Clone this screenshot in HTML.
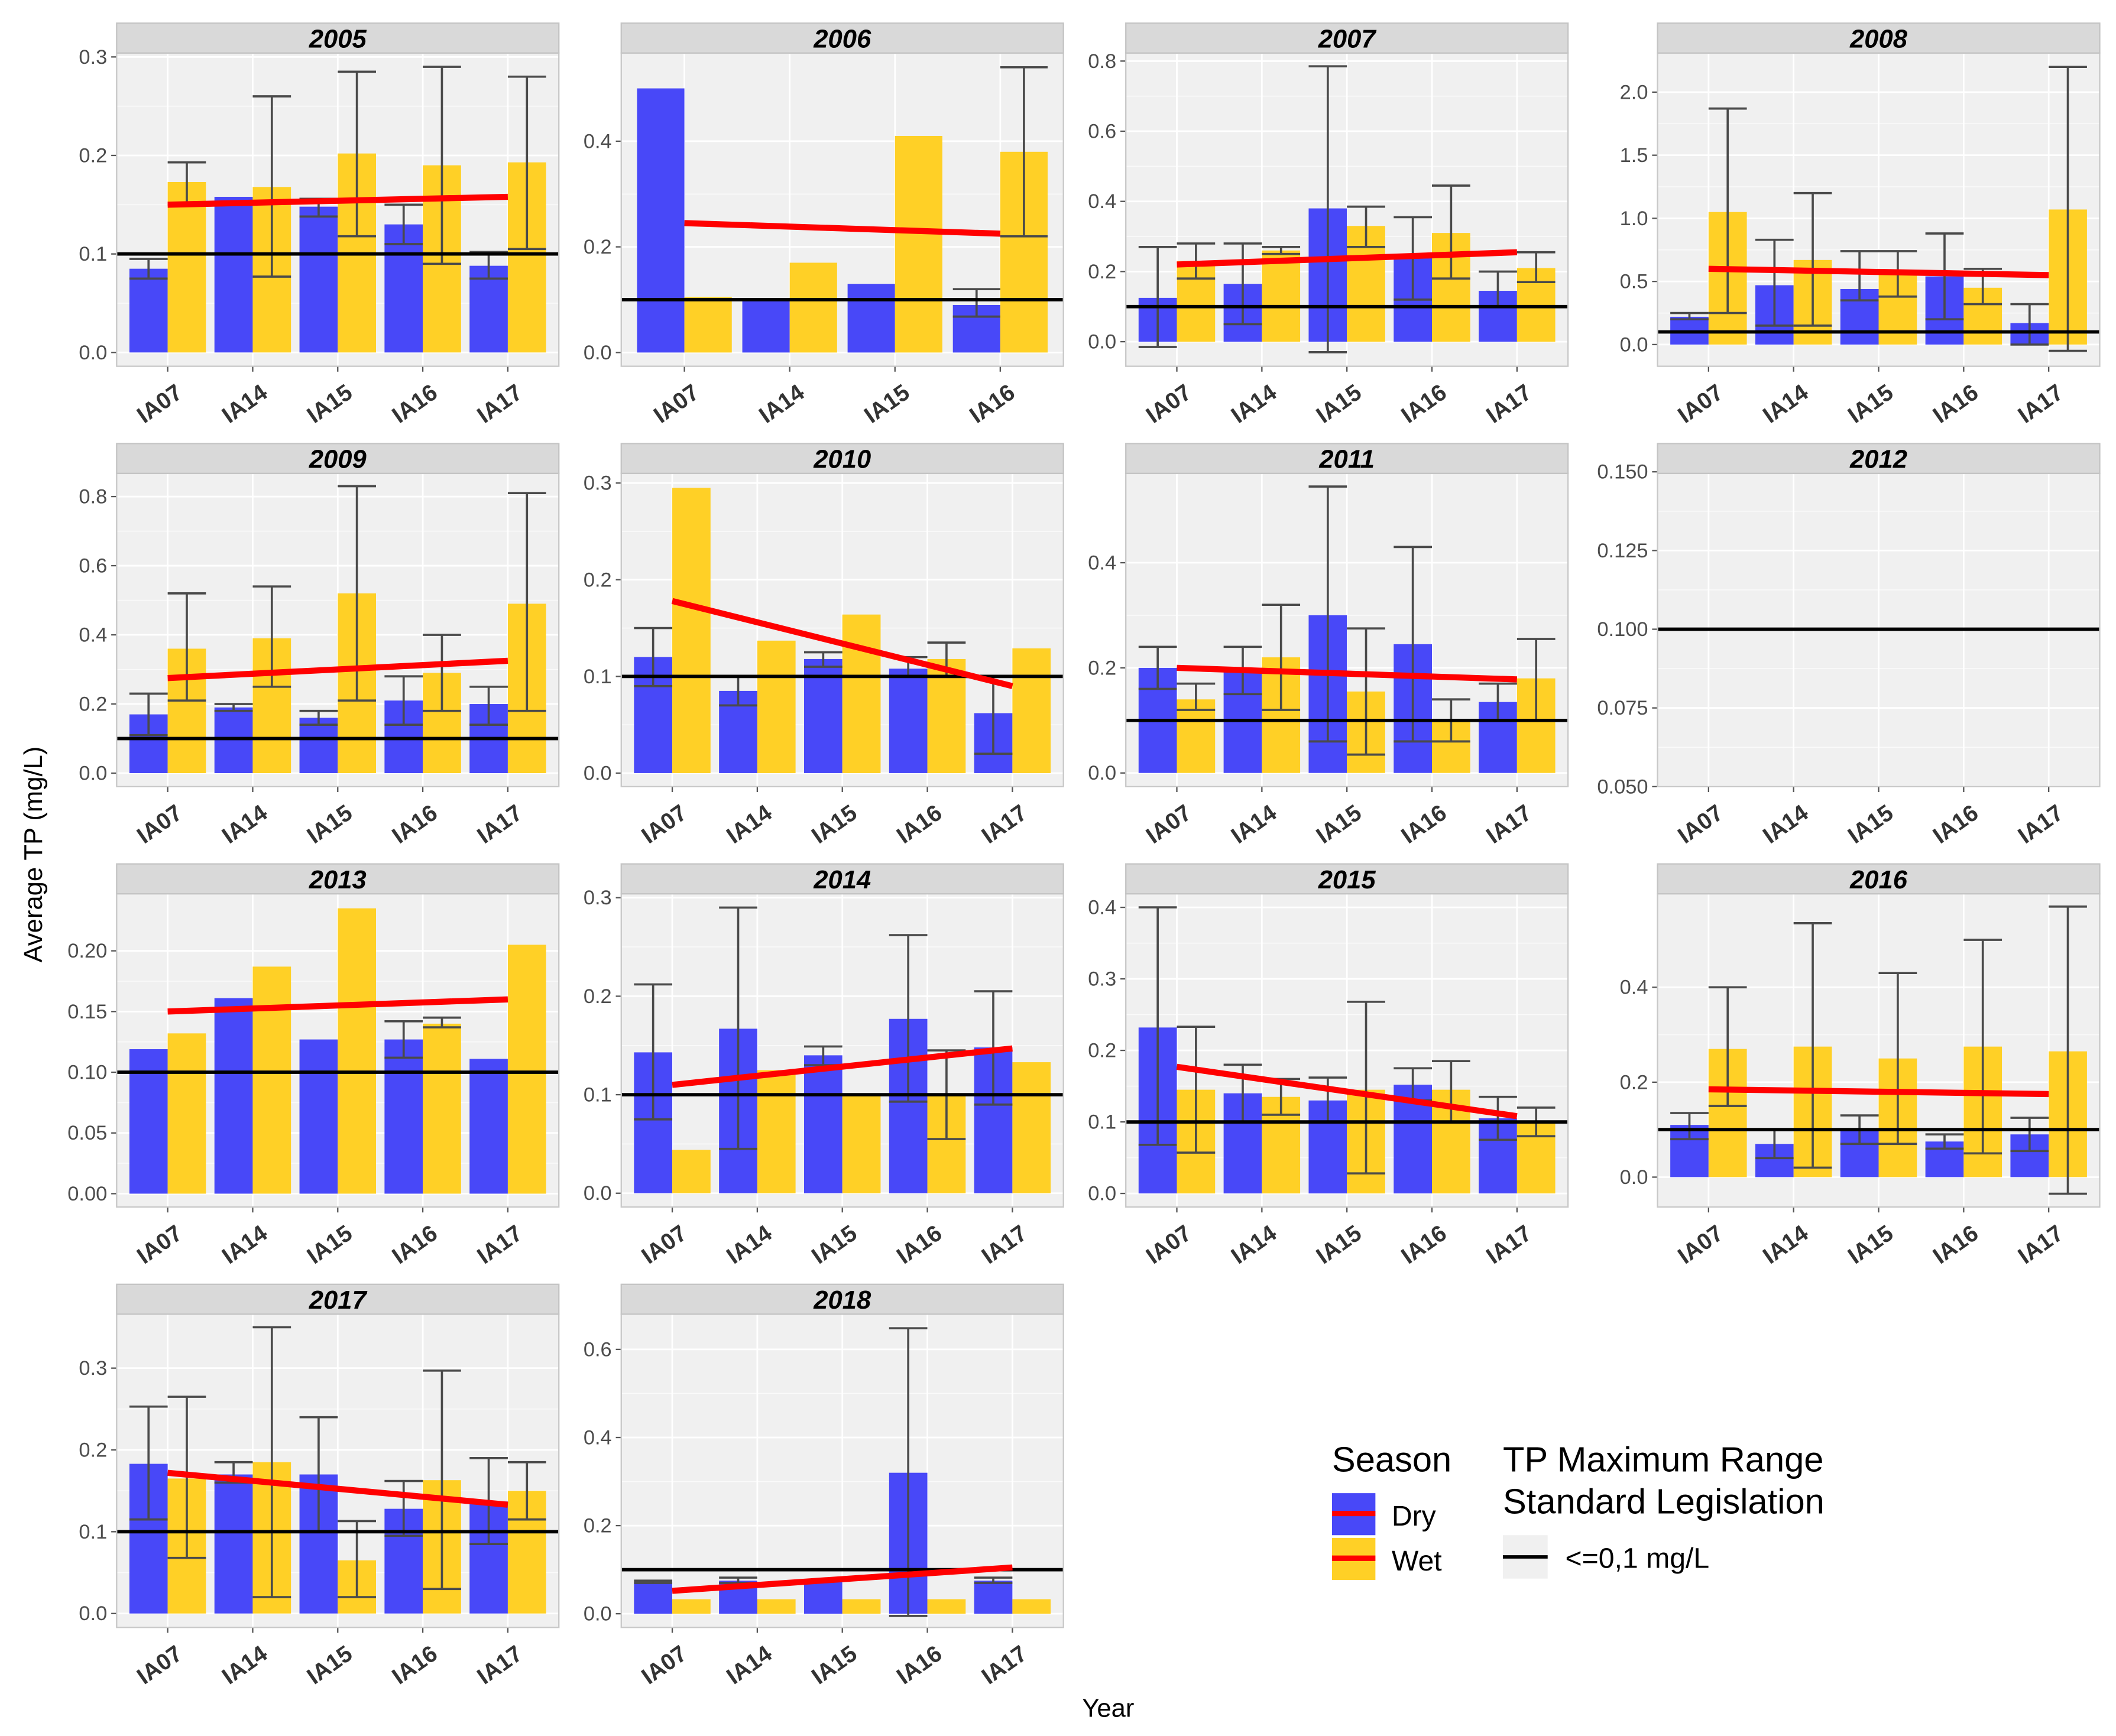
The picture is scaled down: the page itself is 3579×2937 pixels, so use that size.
<!DOCTYPE html>
<html><head><meta charset="utf-8"><style>
html,body{margin:0;padding:0;background:#fff}
svg{display:block;font-family:"Liberation Sans",Arial,sans-serif}
</style></head><body>
<svg id="chart" xmlns="http://www.w3.org/2000/svg" width="3579" height="2937" viewBox="0 0 1560 1280">
<rect width="1560" height="1280" fill="#fff"/>
<g id="panels"></g>
<text x="817" y="1266" font-size="19" text-anchor="middle" fill="#000">Year</text>
<text transform="translate(31,630) rotate(-90)" font-size="19" text-anchor="middle" fill="#000">Average TP (mg/L)</text>
<g transform="translate(-4,-6)">
<text x="986" y="1091" font-size="26" fill="#000">Season</text>
<rect x="986" y="1107" width="32" height="31" fill="#4848f8"/>
<line x1="986" y1="1122" x2="1018" y2="1122" stroke="#ff0000" stroke-width="4"/>
<rect x="986" y="1140" width="32" height="31" fill="#ffd026"/>
<line x1="986" y1="1155" x2="1018" y2="1155" stroke="#ff0000" stroke-width="4"/>
<text x="1030" y="1131" font-size="21" fill="#000">Dry</text>
<text x="1030" y="1164" font-size="21" fill="#000">Wet</text>
<text x="1112" y="1091" font-size="26" fill="#000">TP Maximum Range</text>
<text x="1112" y="1122" font-size="26" fill="#000">Standard Legislation</text>
<rect x="1112" y="1138" width="33" height="32" fill="#f0f0f0"/>
<line x1="1112" y1="1154" x2="1145" y2="1154" stroke="#000" stroke-width="2.5"/>
<text x="1158" y="1162" font-size="21" fill="#000">&lt;=0,1 mg/L</text>
</g>
</svg>
<script>
const years=["2005","2006","2007","2008","2009","2010","2011","2012","2013","2014","2015","2016","2017","2018"];
const cats5=["IA07","IA14","IA15","IA16","IA17"];
const cats6=["IA07","IA14","IA15","IA16"];
const domains=[[-0.014,0.304],[-0.026,0.567],[-0.07,0.823],[-0.172,2.31],[-0.039,0.867],[-0.014,0.31],[-0.026,0.57],[0.05,0.1495],[-0.011,0.247],[-0.014,0.304],[-0.019,0.419],[-0.063,0.597],[-0.017,0.366],[-0.031,0.68]];
const ticks=[[0,0.1,0.2,0.3],[0,0.2,0.4],[0,0.2,0.4,0.6,0.8],[0,0.5,1,1.5,2],[0,0.2,0.4,0.6,0.8],[0,0.1,0.2,0.3],[0,0.2,0.4],[0.05,0.075,0.1,0.125,0.15],[0,0.05,0.1,0.15,0.2],[0,0.1,0.2,0.3],[0,0.1,0.2,0.3,0.4],[0,0.2,0.4],[0,0.1,0.2,0.3],[0,0.2,0.4,0.6]];
const tickLabels=[["0.0","0.1","0.2","0.3"],["0.0","0.2","0.4"],["0.0","0.2","0.4","0.6","0.8"],["0.0","0.5","1.0","1.5","2.0"],["0.0","0.2","0.4","0.6","0.8"],["0.0","0.1","0.2","0.3"],["0.0","0.2","0.4"],["0.050","0.075","0.100","0.125","0.150"],["0.00","0.05","0.10","0.15","0.20"],["0.0","0.1","0.2","0.3"],["0.0","0.1","0.2","0.3","0.4"],["0.0","0.2","0.4"],["0.0","0.1","0.2","0.3"],["0.0","0.2","0.4","0.6"]];
const dry=[[0.085,0.158,0.148,0.13,0.088],[0.5,0.1,0.13,0.09],[0.125,0.165,0.38,0.24,0.145],[0.22,0.47,0.44,0.54,0.17],[0.17,0.19,0.16,0.21,0.2],[0.12,0.085,0.118,0.108,0.062],[0.2,0.2,0.3,0.245,0.135],[],[0.119,0.161,0.127,0.127,0.111],[0.143,0.167,0.14,0.177,0.148],[0.232,0.14,0.13,0.152,0.105],[0.11,0.07,0.1,0.075,0.09],[0.183,0.17,0.17,0.128,0.137],[0.072,0.075,0.075,0.32,0.075]];
const dryLo=[[0.075,null,0.138,0.11,0.075],[null,null,null,0.068,null],[-0.015,0.05,-0.03,0.12,0.1],[0.2,0.15,0.35,0.2,0.0],[0.11,0.18,0.14,0.14,0.14],[0.09,0.07,0.11,0.1,0.02],[0.16,0.15,0.06,0.06,0.1],[],[null,null,null,0.112,null],[0.075,0.045,0.13,0.093,0.09],[0.068,0.1,0.1,0.13,0.075],[0.08,0.04,0.07,0.06,0.055],[0.115,0.16,0.1,0.095,0.085],[0.07,0.07,null,-0.005,0.07]];
const dryHi=[[0.095,null,0.156,0.15,0.102],[null,null,null,0.12,null],[0.27,0.28,0.785,0.355,0.2],[0.25,0.83,0.74,0.88,0.32],[0.23,0.2,0.18,0.28,0.25],[0.15,0.1,0.125,0.12,0.1],[0.24,0.24,0.545,0.43,0.17],[],[null,null,null,0.142,null],[0.212,0.29,0.149,0.262,0.205],[0.4,0.18,0.162,0.175,0.135],[0.135,0.1,0.13,0.09,0.125],[0.253,0.185,0.24,0.162,0.19],[0.075,0.082,null,0.648,0.082]];
const wet=[[0.173,0.168,0.202,0.19,0.193],[0.105,0.17,0.41,0.38],[0.23,0.26,0.33,0.31,0.21],[1.05,0.67,0.56,0.45,1.07],[0.36,0.39,0.52,0.29,0.49],[0.295,0.137,0.164,0.118,0.129],[0.14,0.22,0.155,0.1,0.18],[],[0.132,0.187,0.235,0.14,0.205],[0.044,0.125,0.1,0.1,0.133],[0.145,0.135,0.145,0.145,0.1],[0.27,0.275,0.25,0.275,0.265],[0.165,0.185,0.065,0.163,0.15],[0.033,0.033,0.033,0.033,0.033]];
const wetLo=[[0.15,0.077,0.118,0.09,0.105],[null,null,null,0.22],[0.18,0.25,0.27,0.18,0.17],[0.25,0.15,0.38,0.32,-0.05],[0.21,0.25,0.21,0.18,0.18],[null,null,null,0.1,null],[0.12,0.12,0.035,0.06,0.1],[],[null,null,null,0.137,null],[null,null,null,0.055,null],[0.057,0.11,0.028,0.1,0.08],[0.15,0.02,0.07,0.05,-0.035],[0.068,0.02,0.02,0.03,0.115],[null,null,null,null,null]];
const wetHi=[[0.193,0.26,0.285,0.29,0.28],[null,null,null,0.54],[0.28,0.27,0.385,0.445,0.255],[1.87,1.2,0.74,0.6,2.2],[0.52,0.54,0.83,0.4,0.81],[null,null,null,0.135,null],[0.17,0.32,0.275,0.14,0.255],[],[null,null,null,0.145,null],[null,null,null,0.145,null],[0.233,0.16,0.268,0.185,0.12],[0.4,0.535,0.43,0.5,0.57],[0.265,0.35,0.113,0.297,0.185],[null,null,null,null,null]];
const trendStart=[0.15,0.245,0.22,0.6,0.275,0.178,0.2,null,0.15,0.11,0.177,0.185,0.172,0.052];
const trendEnd=[0.158,0.225,0.255,0.55,0.325,0.09,0.178,null,0.16,0.147,0.108,0.175,0.133,0.105];
const limit=0.1;

const NS="http://www.w3.org/2000/svg";
const root=document.getElementById('panels');
const colX=[[86,412],[458,784],[830,1156],[1222,1548]];
const rowY=[17,327,637,947];
function mk(tag,attrs,parent){const e=document.createElementNS(NS,tag);for(const k in attrs)e.setAttribute(k,attrs[k]);parent.appendChild(e);return e;}
years.forEach((yr,p)=>{
  const col=p%4,row=Math.floor(p/4);
  const x0=colX[col][0],x1=colX[col][1],sy=rowY[row],y0=sy+22,y1=sy+253;
  const cats=(p===1)?cats6:cats5;const n=cats.length;
  const g=mk('g',{},root);
  
  
  const [dlo,dhi]=domains[p];
  const Y=v=>y1-(v-dlo)/(dhi-dlo)*(y1-y0);
  const X=i=>x0+(i+0.6)/(n+0.2)*(x1-x0);
  const unit=(x1-x0)/(n+0.2);
  mk('rect',{x:x0,y:y0,width:x1-x0,height:y1-y0,fill:'#f0f0f0'},g);
  const tk=ticks[p];
  for(let k=0;k<tk.length-1;k++){const m=(tk[k]+tk[k+1])/2;mk('line',{x1:x0,x2:x1,y1:Y(m),y2:Y(m),stroke:'#fafafa','stroke-width':0.7},g);}
  tk.forEach((t,k)=>{
    mk('line',{x1:x0,x2:x1,y1:Y(t),y2:Y(t),stroke:'#fff','stroke-width':1.2},g);
    mk('line',{x1:x0-4,x2:x0,y1:Y(t),y2:Y(t),stroke:'#555','stroke-width':1},g);
    const tl=mk('text',{x:x0-7,y:Y(t)+5,'font-size':15,'text-anchor':'end',fill:'#4d4d4d'},g);
    
    
    tl.textContent=tickLabels[p][k];
  });
  cats.forEach((c,i)=>{
    mk('line',{x1:X(i),x2:X(i),y1:y0,y2:y1,stroke:'#fff','stroke-width':1.2},g);
    mk('line',{x1:X(i),x2:X(i),y1:y1,y2:y1+4,stroke:'#555','stroke-width':1},g);
    const xl=mk('text',{transform:`translate(${X(i)+12},${y1+22}) rotate(-35)`,'font-size':17,'font-weight':'bold','text-anchor':'end',fill:'#333'},g);
    
    
    xl.textContent=c;
  });
  const bw=0.45*unit;
  const base=Y(Math.max(0,dlo));
  if(dry[p].length){
    cats.forEach((c,i)=>{
      const xd=X(i)-bw,xw=X(i);
      const bd=mk('rect',{x:xd,y:Math.min(Y(dry[p][i]),base),width:bw,height:Math.abs(base-Y(dry[p][i])),fill:'#4848f8'},g);
      
      
      const bwt=mk('rect',{x:xw,y:Math.min(Y(wet[p][i]),base),width:bw,height:Math.abs(base-Y(wet[p][i])),fill:'#ffd026'},g);
      
      
    });
    cats.forEach((c,i)=>{
      [[dryLo,dryHi,X(i)-bw],[wetLo,wetHi,X(i)]].forEach(([L,H,bx])=>{
        const lo=L[p][i],hi=H[p][i];if(lo===null||hi===null)return;
        const eg=mk('g',{stroke:'#4a4a4a','stroke-width':1.6},g);
        
        
        const cx=bx+bw/2;
        mk('line',{x1:cx,x2:cx,y1:Y(lo),y2:Y(hi)},eg);
        mk('line',{x1:bx,x2:bx+bw,y1:Y(lo),y2:Y(lo)},eg);
        mk('line',{x1:bx,x2:bx+bw,y1:Y(hi),y2:Y(hi)},eg);
      });
    });
  }
  const hl=mk('line',{x1:x0,x2:x1,y1:Y(limit),y2:Y(limit),stroke:'#000','stroke-width':2.5},g);
  
  
  if(trendStart[p]!==null){
    const tl=mk('line',{x1:X(0),x2:X(n-1),y1:Y(trendStart[p]),y2:Y(trendEnd[p]),stroke:'#ff0000','stroke-width':4.5},g);
    
    
  }
  mk('rect',{x:x0,y:y0,width:x1-x0,height:y1-y0,fill:'none',stroke:'#c8c8c8','stroke-width':1},g);
  mk('rect',{x:x0,y:sy,width:x1-x0,height:22,fill:'#d9d9d9',stroke:'#c4c4c4','stroke-width':1},g);
  const st=mk('text',{x:(x0+x1)/2,y:sy+18,'font-size':19,'font-weight':'bold','font-style':'italic','text-anchor':'middle',fill:'#000'},g);
  
  
  st.textContent=yr;
});
</script>
</body></html>
